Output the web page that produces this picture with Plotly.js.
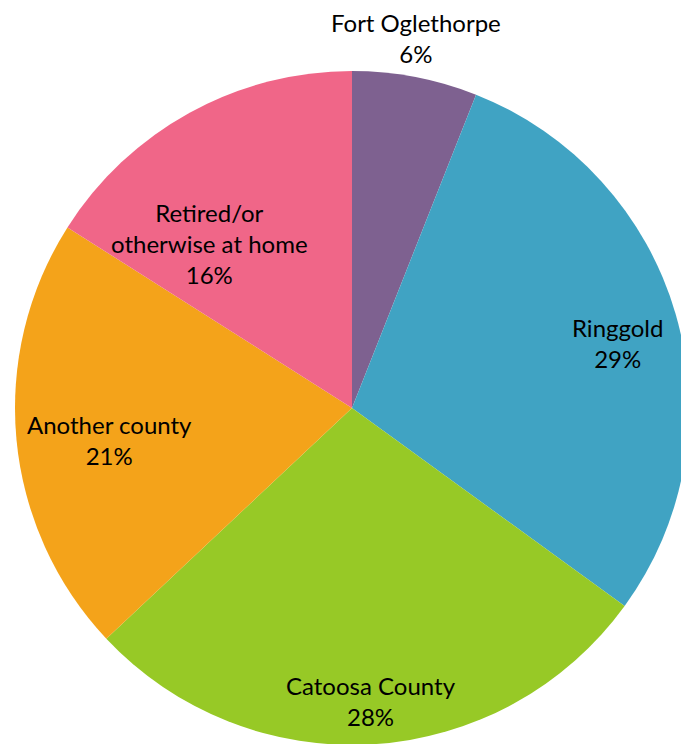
<!DOCTYPE html>
<html>
<head>
<meta charset="utf-8">
<script src="https://cdn.plot.ly/plotly-3.0.1.min.js"></script>
<style>
html, body { margin: 0; padding: 0; overflow: hidden; background: #ffffff; }
#chart { width: 700px; height: 746px; }
</style>
</head>
<body>
<div id="chart"></div>
<script>
const categories = ['Fort Oglethorpe', 'Ringgold', 'Catoosa County', 'Another county', 'Retired/or otherwise at home'];
const labelText = ['Fort Oglethorpe', 'Ringgold', 'Catoosa County', 'Another county', 'Retired/or<br>otherwise at home'];
const values = [6, 29, 28, 21, 16];
const colors = ['#7E6190', '#40A3C3', '#97C926', '#F4A31A', '#F06688'];

// label placement (style): radial fraction of radius and angular shift (deg) from slice bisector
const labelRadius = [1.114, 0.81, 0.871, 0.727, 0.646];
const labelShift = [-1.06, 2.4, -0.1, -2.1, -12.1];

const fontFamily = 'Lato, "Open Sans", sans-serif';
const fontSize = 24;

const total = values.reduce((a, b) => a + b, 0);
const annotations = [];
let cum = 0;
values.forEach((v, i) => {
  const mid = (cum + v / 2) / total * 360 + labelShift[i];
  cum += v;
  const rad = mid * Math.PI / 180;
  const pct = Math.round(v / total * 100) + '%';
  annotations.push({
    xref: 'paper', yref: 'paper',
    x: 0.5 + 0.5 * labelRadius[i] * Math.sin(rad),
    y: 0.5 + 0.5 * labelRadius[i] * Math.cos(rad),
    xanchor: 'center', yanchor: 'middle',
    text: labelText[i] + '<br>' + pct,
    showarrow: false,
    align: 'center',
    font: { family: fontFamily, size: fontSize, color: '#000000' }
  });
});

const trace = {
  type: 'pie',
  labels: categories,
  values: values,
  textinfo: 'none',
  sort: false,
  direction: 'clockwise',
  rotation: 0,
  marker: { colors: colors, line: { width: 0 } },
  hoverinfo: 'label+percent',
  automargin: false
};

const layout = {
  width: 700,
  height: 746,
  margin: { l: 15, r: 11, t: 71, b: 1 },
  showlegend: false,
  paper_bgcolor: '#ffffff',
  plot_bgcolor: '#ffffff',
  annotations: annotations
};

Plotly.newPlot('chart', [trace], layout, { displayModeBar: false, staticPlot: true });
</script>
</body>
</html>
